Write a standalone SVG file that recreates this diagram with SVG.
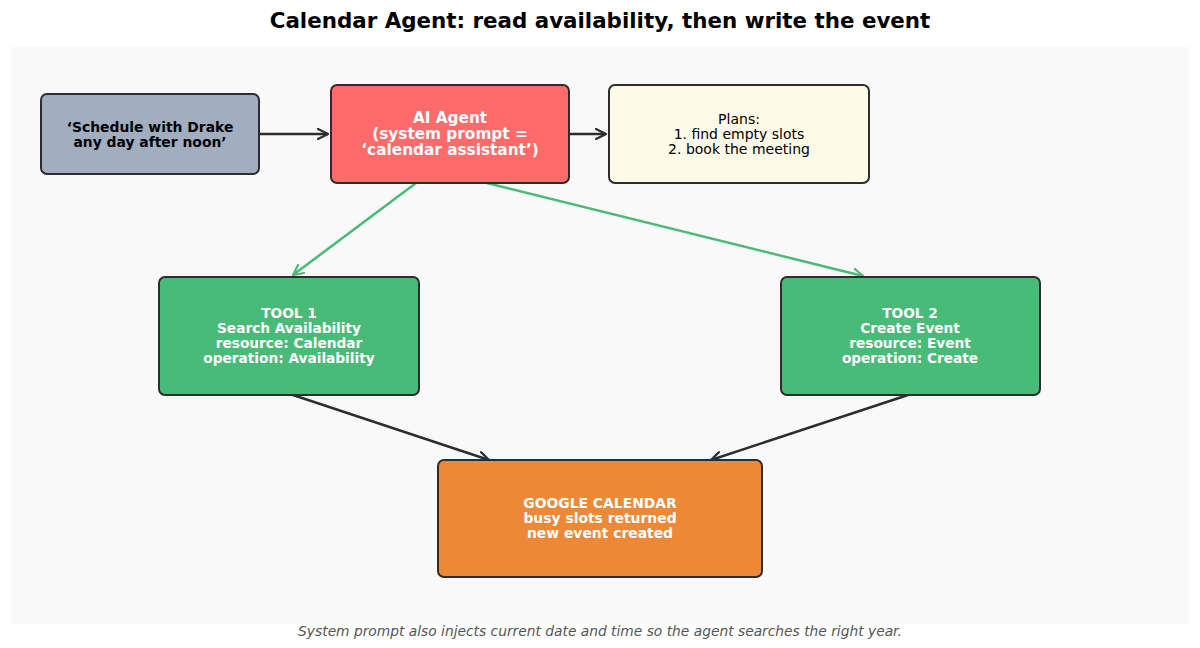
<svg xmlns="http://www.w3.org/2000/svg" width="1200" height="648" viewBox="0 0 1200 648">
<defs>
<marker id="ad" viewBox="0 0 12 12" refX="11" refY="6" markerWidth="12" markerHeight="12" markerUnits="userSpaceOnUse" orient="auto">
<path d="M1,1 L11,6 L1,11" fill="none" stroke="#2d2d2d" stroke-width="2.2" stroke-linecap="round"/>
</marker>
<marker id="ag" viewBox="0 0 12 12" refX="11" refY="6" markerWidth="12" markerHeight="12" markerUnits="userSpaceOnUse" orient="auto">
<path d="M1,1 L11,6 L1,11" fill="none" stroke="#48bb78" stroke-width="2.2" stroke-linecap="round"/>
</marker>
</defs>
<style>
.box{stroke:#2d2d2d;stroke-width:2}
.t{font-family:"DejaVu Sans",sans-serif;text-anchor:middle}
.b{font-weight:bold}
.w{fill:#ffffff}
.d{stroke:#2d2d2d;stroke-width:2.5;fill:none;marker-end:url(#ad)}
.g{stroke:#48bb78;stroke-width:2.5;fill:none;marker-end:url(#ag)}
</style>
<rect width="1200" height="648" fill="#ffffff"/>
<rect x="11" y="47" width="1178" height="577" fill="#f9f9f9"/>
<text class="t b" x="600" y="28" font-size="21.4" fill="#000">Calendar Agent: read availability, then write the event</text>
<g id="connectors">
<line class="d" x1="260" y1="134" x2="328" y2="134"/>
<line class="d" x1="570" y1="134" x2="606" y2="134"/>
<line class="g" x1="416" y1="183" x2="293" y2="275"/>
<line class="g" x1="483" y1="182" x2="863" y2="276"/>
<line class="d" x1="290" y1="394" x2="489" y2="460"/>
<line class="d" x1="908" y1="395" x2="711" y2="460"/>
</g>
<g id="input">
<rect class="box" x="41" y="94" width="218" height="80" rx="6" fill="#a0aec0"/>
<text class="t b" font-size="13.9" fill="#000"><tspan x="150" y="132">‘Schedule with Drake</tspan><tspan x="150" y="147">any day after noon’</tspan></text>
</g>
<g id="agent">
<rect class="box" x="331" y="85" width="238" height="98" rx="6" fill="#ff6b6b"/>
<text class="t b w" font-size="15.3"><tspan x="450" y="123">AI Agent</tspan><tspan x="450" y="139">(system prompt =</tspan><tspan x="450" y="155">‘calendar assistant’)</tspan></text>
</g>
<g id="plans">
<rect class="box" x="609" y="85" width="260" height="98" rx="6" fill="#fefae8"/>
<text class="t" font-size="14" fill="#000"><tspan x="739" y="124">Plans:</tspan><tspan x="739" y="139">1. find empty slots</tspan><tspan x="739" y="154">2. book the meeting</tspan></text>
</g>
<g id="tool1">
<rect class="box" x="159" y="277" width="260" height="118" rx="6" fill="#48bb78"/>
<text class="t b w" font-size="13.7"><tspan x="289" y="318">TOOL 1</tspan><tspan x="289" y="333">Search Availability</tspan><tspan x="289" y="348">resource: Calendar</tspan><tspan x="289" y="363">operation: Availability</tspan></text>
</g>
<g id="tool2">
<rect class="box" x="781" y="277" width="259" height="118" rx="6" fill="#48bb78"/>
<text class="t b w" font-size="13.7"><tspan x="910" y="318">TOOL 2</tspan><tspan x="910" y="333">Create Event</tspan><tspan x="910" y="348">resource: Event</tspan><tspan x="910" y="363">operation: Create</tspan></text>
</g>
<g id="gcal">
<rect class="box" x="438" y="460" width="324" height="117" rx="6" fill="#ed8936"/>
<text class="t b w" font-size="13.9"><tspan x="600" y="508">GOOGLE CALENDAR</tspan><tspan x="600" y="523">busy slots returned</tspan><tspan x="600" y="538">new event created</tspan></text>
</g>
<text class="t" x="600" y="636" font-size="13.8" font-style="italic" fill="#555555">System prompt also injects current date and time so the agent searches the right year.</text>
</svg>
